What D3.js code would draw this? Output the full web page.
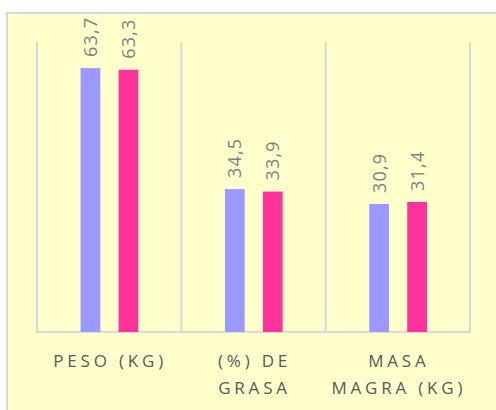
<!DOCTYPE html>
<html>
<head>
<meta charset="utf-8">
<script src="https://cdn.jsdelivr.net/npm/d3@7"></script>
<style>
  html, body { margin: 0; padding: 0; background: #ffffff; }
  svg { display: block; }
</style>
</head>
<body>
<svg id="chart" width="496" height="410"></svg>
<script>
// Categories, their wrapped labels and the two series
const categories = ["PESO (KG)", "(%) DE GRASA", "MASA MAGRA (KG)"];
const categoryLines = [["PESO (KG)"], ["(%) DE", "GRASA"], ["MASA", "MAGRA (KG)"]];
const seriesNames = ["Serie 1", "Serie 2"];
const serie1 = [63.7, 34.5, 30.9];
const serie2 = [63.3, 33.9, 31.4];
const seriesColors = ["#9999ff", "#ff3399"];
const yDomain = [0, 70];

const svg = d3.select("#chart");

// Chart area panel (extends past the right and bottom edges)
svg.append("rect")
  .attr("x", 7).attr("y", 13)
  .attr("width", 500).attr("height", 410)
  .attr("fill", "#ffffcc")
  .attr("stroke", "#d9d9d9")
  .attr("stroke-width", 2);

const plot = { left: 37, right: 470, top: 42, bottom: 332 };

const x0 = d3.scaleBand()
  .domain(categories)
  .range([plot.left, plot.right])
  .padding(0);

const x1 = d3.scaleBand()
  .domain(seriesNames)
  .range([x0.bandwidth() * 0.302, x0.bandwidth() * 0.702])
  .paddingInner(0.48)
  .paddingOuter(0);

const y = d3.scaleLinear().domain(yDomain).range([plot.bottom, plot.top]);

// Vertical separators between categories
const bounds = categories.map(c => x0(c)).concat([x0(categories[categories.length - 1]) + x0.bandwidth()]);
svg.append("g")
  .selectAll("line")
  .data(bounds)
  .join("line")
  .attr("x1", d => d).attr("x2", d => d)
  .attr("y1", y(yDomain[1])).attr("y2", y(0))
  .attr("stroke", "#d9d9d9")
  .attr("stroke-width", 2);

// Baseline
svg.append("line")
  .attr("x1", plot.left - 1).attr("x2", plot.right + 1)
  .attr("y1", y(0)).attr("y2", y(0))
  .attr("stroke", "#d9d9d9")
  .attr("stroke-width", 2);

const rows = categories.map((c, i) => ({
  cat: c,
  values: [serie1[i], serie2[i]]
}));

const groups = svg.append("g")
  .selectAll("g")
  .data(rows)
  .join("g")
  .attr("transform", d => `translate(${x0(d.cat)},0)`);

const items = d => d.values.map((v, j) => ({ name: seriesNames[j], value: v, color: seriesColors[j] }));

groups.selectAll("rect")
  .data(items)
  .join("rect")
  .attr("x", d => x1(d.name))
  .attr("y", d => y(d.value))
  .attr("width", x1.bandwidth())
  .attr("height", d => y(0) - y(d.value))
  .attr("fill", d => d.color);

// Value labels, rotated above each bar
const fmt = v => d3.format(".1f")(v).replace(".", ",");
groups.selectAll("text.value")
  .data(items)
  .join("text")
  .attr("class", "value")
  .attr("transform", d => `translate(${x1(d.name) + x1.bandwidth() / 2},${y(d.value) - 11}) rotate(-90)`)
  .attr("dy", "0.36em")
  .attr("text-anchor", "start")
  .attr("font-family", "'Open Sans', sans-serif")
  .attr("font-size", 18)
  .attr("letter-spacing", 1.2)
  .attr("fill", "#808080")
  .text(d => fmt(d.value));

// Category labels, letter-spaced and wrapped
groups.append("text")
  .attr("text-anchor", "middle")
  .attr("font-family", "'Open Sans', sans-serif")
  .attr("font-size", 17)
  .attr("letter-spacing", 3.8)
  .attr("fill", "#595959")
  .selectAll("tspan")
  .data((d, i) => categoryLines[i])
  .join("tspan")
  .attr("x", x0.bandwidth() / 2 + 1)
  .attr("y", (d, k) => 367 + k * 27)
  .text(d => d);
</script>
</body>
</html>
